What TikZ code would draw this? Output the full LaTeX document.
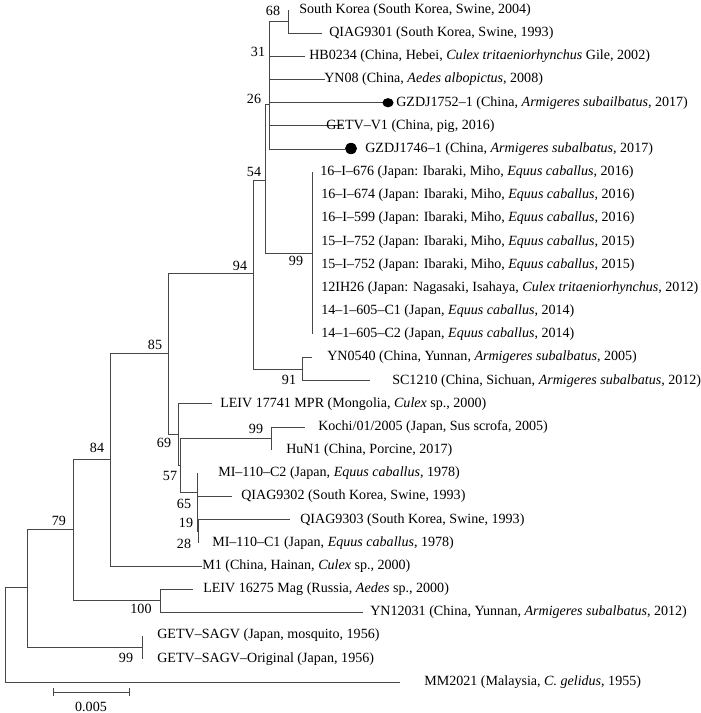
\documentclass[tikz,border=0pt]{standalone}
\usepackage{fontspec}
\setmainfont{Liberation Serif}

\begin{document}
\begin{tikzpicture}[x=0.025cm,y=-0.025cm,font=\fontsize{10}{11}\selectfont,
        br/.style={draw=black!72,line width=0.6pt},
        leaf/.style={anchor=west,inner sep=0pt},
        boot/.style={inner sep=0pt}]
                \useasboundingbox (0,0) rectangle (700,713);
                % \draw[help lines,step=50] (0,0) grid (700,713);
                % inner nodes: x of the vertical, y where it joins its parent
                \coordinate (root) at (5,634);
                \coordinate (n27) at (27,587);
                \coordinate (n79) at (73,529);
                \coordinate (n84) at (110,459);
                \coordinate (n85) at (168,353);
                \coordinate (n94) at (253,273);
                \coordinate (n54) at (265,180);
                \coordinate (n26) at (269,104);
                \coordinate (n68) at (288,21.6);
                \coordinate (j99) at (312,253.3);
                \coordinate (n91) at (302,369.2);
                \coordinate (n69) at (178,434);
                \coordinate (n57) at (180,465);
                \coordinate (k99) at (271,438.6);
                \coordinate (n65) at (197,492);
                \coordinate (n19) at (198,531.4);
                \coordinate (n100) at (160,600.9);
                \coordinate (g99) at (142,647.2);
                % tips
                \coordinate (l0) at (288,10);
                \coordinate (l1) at (322,33.2);
                \coordinate (l2) at (305,56.3);
                \coordinate (l3) at (325,79.5);
                \coordinate (l4) at (383,102.7);
                \coordinate (l5) at (343,125.9);
                \coordinate (l6) at (345,149);
                \coordinate (l7) at (312,172.2);
                \coordinate (l14) at (312,334.4);
                \coordinate (l15) at (312,357.6);
                \coordinate (l16) at (370,380.7);
                \coordinate (l17) at (212,403.9);
                \coordinate (l18) at (305,427.1);
                \coordinate (l19) at (271,450.2);
                \coordinate (l20) at (197,473.4);
                \coordinate (l21) at (232,496.6);
                \coordinate (l22) at (290,519.8);
                \coordinate (l23) at (198,542.9);
                \coordinate (l24) at (202,566.1);
                \coordinate (l25) at (193,589.3);
                \coordinate (l26) at (363,612.4);
                \coordinate (l27) at (142,635.6);
                \coordinate (l28) at (142,658.8);
                \coordinate (l29) at (400,682);
                % branches
                \draw[br] (root) |- (n27) (root) |- (l29);
                \draw[br] (n27) |- (n79) (n27) |- (g99);
                \draw[br] (n79) |- (n84) (n79) |- (n100);
                \draw[br] (n100) |- (l25) (n100) |- (l26);
                \draw[br] (g99) |- (l27) (g99) |- (l28);
                \draw[br] (n84) |- (n85) (n84) |- (l24);
                \draw[br] (n85) |- (n94) (n85) |- (n69);
                \draw[br] (n94) |- (n54) (n94) |- (n91);
                \draw[br] (n91) |- (l15) (n91) |- (l16);
                \draw[br] (n54) |- (n26) (n54) |- (j99);
                \draw[br] (j99) |- (l7) (j99) |- (l14);
                \draw[br] (n26) |- (n68) (n26) |- (l2) (n26) |- (l3) (n26) |- (l4) (n26) |- (l5) (n26) |- (l6);
                \draw[br] (n68) |- (l0) (n68) |- (l1);
                \draw[br] (n69) |- (l17) (n69) |- (n57);
                \draw[br] (n57) |- (k99) (n57) |- (n65);
                \draw[br] (k99) |- (l18) (k99) |- (l19);
                \draw[br] (n65) |- (l20) (n65) |- (l21) (n65) |- (n19);
                \draw[br] (n19) |- (l22) (n19) |- (l23);
                % bootstrap values
                \node[boot] (b68) at (273,11) {68};
                \node[boot] (b31) at (258,52) {31};
                \node[boot] (b26) at (254,99) {26};
                \node[boot] (b54) at (254,172) {54};
                \node[boot] (b99a) at (296,261) {99};
                \node[boot] (b94) at (240,266) {94};
                \node[boot] (b91) at (289,380) {91};
                \node[boot] (b85) at (155,345) {85};
                \node[boot] (b99b) at (256,429) {99};
                \node[boot] (b69) at (164,443) {69};
                \node[boot] (b57) at (170,476) {57};
                \node[boot] (b65) at (184,504) {65};
                \node[boot] (b19) at (186,523) {19};
                \node[boot] (b28) at (184,544) {28};
                \node[boot] (b84) at (97,448) {84};
                \node[boot] (b79) at (59,521) {79};
                \node[boot] (b100) at (141,609) {100};
                \node[boot] (b99c) at (126,658) {99};
                % strains
                \fill[black] (388,102.7) ellipse [x radius=0.14cm,y radius=0.115cm];
                \fill[black] (351,148.5) ellipse [x radius=0.15cm,y radius=0.14cm];
                \node[leaf] (t0) at (299,10) {South Korea (South Korea, Swine, 2004)};
                \node[leaf] (t1) at (329,33.2) {QIAG9301 (South Korea, Swine, 1993)};
                \node[leaf] (t2) at (309,56.3) {HB0234 (China, Hebei, \textit{Culex tritaeniorhynchus} Gile, 2002)};
                \node[leaf] (t3) at (324,79.5) {YN08 (China, \textit{Aedes albopictus}, 2008)};
                \node[leaf] (t4) at (396,102.7) {GZDJ1752--1 (China, \textit{Armigeres subailbatus}, 2017)};
                \node[leaf] (t5) at (326,125.9) {GETV--V1 (China, pig, 2016)};
                \node[leaf] (t6) at (365,149) {GZDJ1746--1 (China, \textit{Armigeres subalbatus}, 2017)};
                \node[leaf] (t7) at (320,172.2) {16--I--676 (Japan: Ibaraki, Miho, \textit{Equus caballus}, 2016)};
                \node[leaf] (t8) at (321,195.4) {16--I--674 (Japan: Ibaraki, Miho, \textit{Equus caballus}, 2016)};
                \node[leaf] (t9) at (321,218.5) {16--I--599 (Japan: Ibaraki, Miho, \textit{Equus caballus}, 2016)};
                \node[leaf] (t10) at (321,241.7) {15--I--752 (Japan: Ibaraki, Miho, \textit{Equus caballus}, 2015)};
                \node[leaf] (t11) at (321,264.9) {15--I--752 (Japan: Ibaraki, Miho, \textit{Equus caballus}, 2015)};
                \node[leaf] (t12) at (321,288) {12IH26 (Japan: Nagasaki, Isahaya, \textit{Culex tritaeniorhynchus}, 2012)};
                \node[leaf] (t13) at (321,311.2) {14--1--605--C1 (Japan, \textit{Equus caballus}, 2014)};
                \node[leaf] (t14) at (321,334.4) {14--1--605--C2 (Japan, \textit{Equus caballus}, 2014)};
                \node[leaf] (t15) at (327,357.6) {YN0540 (China, Yunnan, \textit{Armigeres subalbatus}, 2005)};
                \node[leaf] (t16) at (392,380.7) {SC1210 (China, Sichuan, \textit{Armigeres subalbatus}, 2012)};
                \node[leaf] (t17) at (220,403.9) {LEIV 17741 MPR (Mongolia, \textit{Culex} sp., 2000)};
                \node[leaf] (t18) at (318,427.1) {Kochi/01/2005 (Japan, Sus scrofa, 2005)};
                \node[leaf] (t19) at (286,450.2) {HuN1 (China, Porcine, 2017)};
                \node[leaf] (t20) at (218,473.4) {MI--110--C2 (Japan, \textit{Equus caballus}, 1978)};
                \node[leaf] (t21) at (241,496.6) {QIAG9302 (South Korea, Swine, 1993)};
                \node[leaf] (t22) at (300,519.8) {QIAG9303 (South Korea, Swine, 1993)};
                \node[leaf] (t23) at (212,542.9) {MI--110--C1 (Japan, \textit{Equus caballus}, 1978)};
                \node[leaf] (t24) at (202,566.1) {M1 (China, Hainan, \textit{Culex} sp., 2000)};
                \node[leaf] (t25) at (203,589.3) {LEIV 16275 Mag (Russia, \textit{Aedes} sp., 2000)};
                \node[leaf] (t26) at (370,612.4) {YN12031 (China, Yunnan, \textit{Armigeres subalbatus}, 2012)};
                \node[leaf] (t27) at (157,635.6) {GETV--SAGV (Japan, mosquito, 1956)};
                \node[leaf] (t28) at (157,658.8) {GETV--SAGV--Original (Japan, 1956)};
                \node[leaf] (t29) at (424,682) {MM2021 (Malaysia, \textit{C. gelidus}, 1955)};
                % scale bar
                \coordinate (s1) at (53,692);
                \coordinate (s2) at (129,692);
                \draw[br] (s1) -- (s2);
                \draw[br] ([yshift=0.1cm]s1) -- ([yshift=-0.1cm]s1);
                \draw[br] ([yshift=0.1cm]s2) -- ([yshift=-0.1cm]s2);
                \node[boot] (sc) at (91,707) {0.005};
            \end{tikzpicture}
\end{document}
